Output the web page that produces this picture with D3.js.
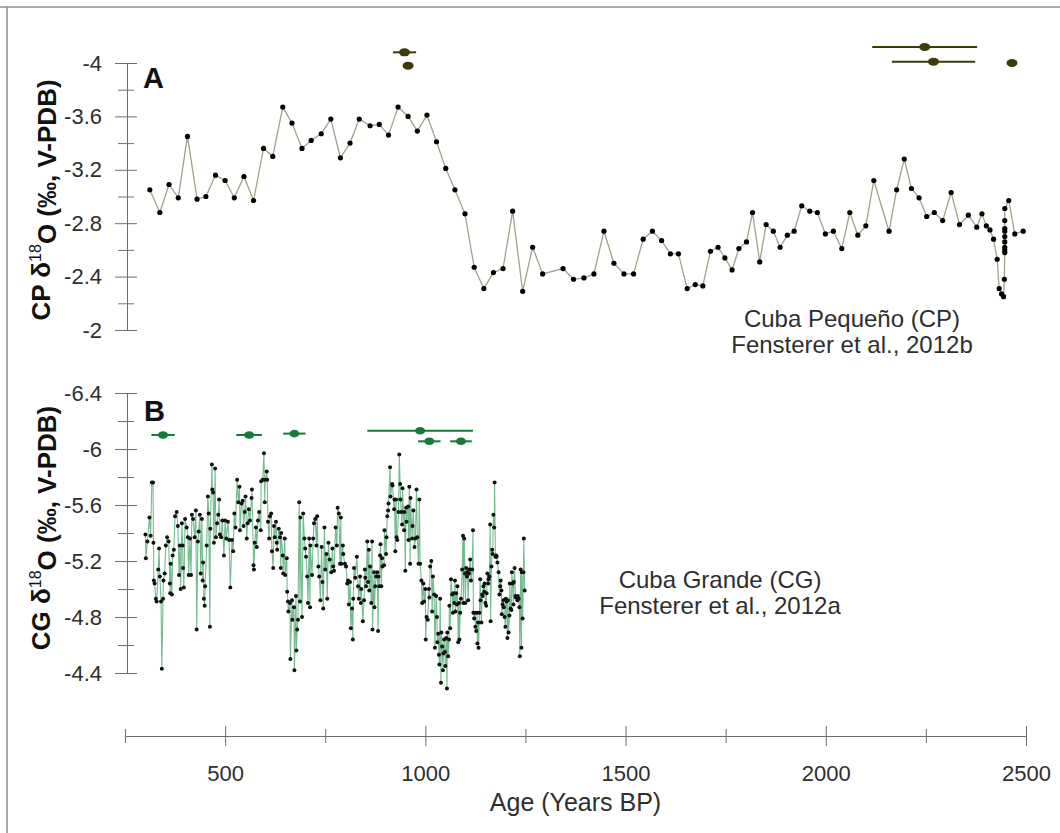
<!DOCTYPE html>
<html>
<head>
<meta charset="utf-8">
<script src="https://cdnjs.cloudflare.com/ajax/libs/d3/7.8.5/d3.min.js"></script>
<style>
  body { margin: 0; background: #fff; }
  svg { display: block; font-family: "Liberation Sans", Arial, Helvetica, sans-serif; }
</style>
</head>
<body>
<div id="chart"></div>
<script>
// ---- panel A : Cuba Pequeno (CP) ----
const cpAge = [312,337,360,383,406,430,452,476,500,523,547,571,596,619,644,667,692,715,740,764,788,812,835,862,885,908,932,957,980,1004,1028,1051,1074,1099,1122,1146,1170,1194,1218,1243,1268,1293,1344,1370,1396,1421,1446,1471,1496,1520,1544,1567,1590,1612,1632,1654,1674,1693,1712,1731,1748,1766,1783,1802,1817,1835,1851,1869,1886,1904,1921,1940,1960,1979,1999,2019,2040,2060,2080,2100,2120,2158,2177,2196,2214,2233,2252,2271,2292,2313,2334,2356,2377,2390,2401,2410,2419,2428,2433,2439,2444,2446,2447,2447,2447,2447,2447,2447,2447,2447,2447,2457,2472,2493];
const cpD18O = [-3.05,-2.88,-3.09,-2.99,-3.45,-2.98,-3.00,-3.16,-3.12,-2.99,-3.15,-2.97,-3.36,-3.30,-3.67,-3.55,-3.36,-3.42,-3.47,-3.58,-3.29,-3.40,-3.58,-3.53,-3.54,-3.46,-3.67,-3.60,-3.49,-3.61,-3.41,-3.21,-3.05,-2.87,-2.47,-2.31,-2.43,-2.46,-2.89,-2.29,-2.62,-2.42,-2.46,-2.38,-2.39,-2.42,-2.74,-2.50,-2.42,-2.42,-2.68,-2.74,-2.67,-2.57,-2.57,-2.31,-2.34,-2.33,-2.59,-2.62,-2.54,-2.45,-2.61,-2.66,-2.88,-2.51,-2.79,-2.74,-2.62,-2.71,-2.74,-2.93,-2.89,-2.88,-2.72,-2.74,-2.61,-2.88,-2.71,-2.78,-3.12,-2.74,-3.05,-3.28,-3.06,-2.99,-2.85,-2.88,-2.82,-3.03,-2.79,-2.86,-2.77,-2.87,-2.78,-2.75,-2.68,-2.53,-2.31,-2.27,-2.25,-2.38,-2.58,-2.60,-2.62,-2.66,-2.70,-2.74,-2.76,-2.82,-2.91,-2.97,-2.72,-2.74,-2.83];
// U-Th dates shown above the record
const cpDateAge = [948, 957, 2247, 2269, 2465];
const cpDateErr = [29, 0, 131, 104, 0];
const cpDateRow = [-4.08, -3.98, -4.12, -4.01, -4.00];

// ---- panel B : Cuba Grande (CG) ----
const cgAge = [301,302,306,311,314,317,320,321,322,324,327,329,333,335,337,340,342,345,346,349,352,355,359,362,363,364,367,369,372,375,379,382,385,387,389,392,394,395,397,400,404,407,409,412,415,417,420,424,427,429,432,434,437,439,442,444,445,447,449,450,454,457,459,462,463,467,468,470,472,475,477,480,483,485,487,490,493,497,500,503,507,510,513,517,520,523,526,530,533,
536,537,541,544,546,549,551,554,556,559,562,566,567,571,572,574,577,579,582,585,589,590,594,597,599,600,604,605,607,610,612,615,617,620,622,624,627,629,630,634,637,639,640,644,645,649,650,654,655,657,658,662,663,667,668,672,673,677,678,680,682,685,687,688,692,695,698,700,702,705,707,710,712,713,717,720,722,725,728,730,733,735,738,741,743,745,748,750,753,755,758,761,765,768,770,
772,776,779,781,784,787,789,790,794,795,799,802,805,807,809,812,814,817,819,820,822,825,829,832,834,837,839,840,844,847,849,850,852,855,857,859,860,862,865,867,868,872,873,875,877,880,882,883,885,887,888,890,892,893,897,898,902,903,905,907,908,912,913,917,918,922,923,925,927,928,930,933,935,937,938,940,942,943,947,948,950,952,953,957,958,960,962,963,967,968,970,973,975,978,980,983,985,987,990,992,995,997,1000,1001,1003,1006,
1009,1010,1012,1015,1017,1019,1022,1024,1027,1029,1030,1032,1034,1035,1037,1039,1040,1042,1044,1045,1047,1049,1050,1052,1054,1055,1057,1059,1060,1062,1064,1067,1069,1070,1072,1074,1075,1077,1079,1080,1082,1084,1085,1087,1089,1092,1094,1095,1097,1099,1100,1102,1104,1105,1107,1109,1110,1112,1114,1117,1119,1120,1122,1124,1125,1127,1129,1130,1132,1133,1135,1137,1138,1140,1142,1143,1145,1147,1148,1150,1152,1153,1155,1157,1158,1160,1162,1163,1165,1167,1168,1170,1172,1173,1175,1177,1178,1180,1183,1185,1187,1188,1190,1191,1193,1195,1196,1198,1200,1201,1203,1205,1206,1208,1210,1211,1213,1215,1216,1218,1220,1221,1223,1225,1226,1228,1230,1231,1233,1235,1236,1238,1240,1241,1243,1245,1246,1248];
const cgD18O = [-5.39,-5.22,-5.34,-5.51,-5.38,-5.76,-5.76,-5.33,-5.06,-5.04,-4.93,-4.91,-5.14,-5.29,-5.09,-4.91,-4.43,-4.93,-5.06,-5.11,-5.31,-5.37,-5.34,-5.04,-4.97,-5.18,-4.96,-5.24,-5.28,-5.52,-5.55,-5.45,-5.10,-5.31,-5.00,-5.47,-5.31,-5.15,-5.01,-5.50,-5.44,-5.37,-5.10,-5.36,-5.10,-5.53,-5.50,-5.37,-5.56,-4.71,-5.34,-5.41,-5.53,-5.11,-5.50,-5.06,-5.19,-4.93,-4.88,-5.02,-5.31,-5.66,-5.54,-4.73,-5.43,-5.89,-5.71,-5.69,-5.33,-5.86,-5.37,-5.47,-5.53,-5.64,-5.39,-5.37,-5.49,-5.24,-5.49,-5.36,-5.48,-5.35,-5.01,-5.35,-5.27,-5.54,-5.44,-5.78,-5.62,
-5.73,-5.42,-5.61,-5.63,-5.45,-5.55,-5.66,-5.36,-5.47,-5.57,-5.49,-5.65,-5.71,-5.17,-5.14,-5.33,-5.44,-5.30,-5.49,-5.55,-5.42,-5.77,-5.78,-5.97,-5.62,-5.78,-5.84,-5.78,-5.48,-5.36,-5.52,-5.54,-5.27,-5.15,-5.45,-5.37,-5.48,-5.33,-5.28,-5.43,-5.37,-5.15,-5.40,-5.24,-5.11,-5.36,-5.10,-5.22,-4.98,-4.91,-4.84,-4.90,-4.50,-4.92,-4.78,-4.87,-4.42,-4.95,-4.56,-4.71,-4.78,-5.62,-4.91,-5.51,-4.80,-5.54,-5.36,-5.29,-5.23,-5.09,-4.90,-5.36,-4.87,-5.31,-5.10,-5.36,-5.47,-5.50,-5.31,-5.52,-5.16,-5.09,-4.92,-5.30,-5.05,-4.86,-5.44,-5.14,-5.25,-4.93,-5.33,-5.21,-5.12,-5.29,-5.16,
-5.13,-5.44,-5.31,-5.58,-5.54,-5.18,-5.51,-5.18,-5.31,-5.25,-5.18,-5.16,-5.04,-5.06,-4.89,-5.05,-4.72,-4.86,-4.64,-4.93,-5.15,-5.08,-5.23,-5.02,-4.93,-5.09,-4.90,-5.00,-4.77,-4.92,-5.14,-5.08,-5.02,-5.34,-5.05,-5.28,-4.99,-5.16,-4.90,-5.34,-4.71,-5.12,-4.87,-5.02,-5.09,-5.12,-4.70,-5.09,-5.02,-5.24,-5.32,-5.02,-5.22,-5.16,-5.17,-5.42,-5.25,-5.37,-5.52,-5.56,-5.61,-5.87,-5.66,-5.75,-5.74,-5.57,-5.64,-5.27,-5.64,-5.37,-5.35,-5.55,-5.96,-5.75,-5.64,-5.55,-5.46,-5.72,-5.42,-5.55,-5.13,-5.58,-5.48,-5.59,-5.35,-5.73,-5.18,-5.65,-5.36,-5.45,-5.56,-5.30,-5.36,-5.71,-5.37,-5.18,-5.64,-5.18,-5.06,-4.90,-5.04,-4.91,-5.00,-4.64,-4.80,-4.78,
-5.00,-4.94,-5.16,-5.20,-4.84,-5.09,-4.96,-4.58,-4.95,-4.80,-4.62,-4.68,-4.53,-4.46,-4.93,-4.33,-4.69,-4.59,-4.42,-4.54,-4.64,-4.55,-4.45,-4.65,-4.29,-4.69,-4.52,-4.64,-4.88,-4.72,-5.07,-4.96,-4.83,-4.97,-4.90,-5.06,-4.84,-4.97,-4.89,-5.02,-4.62,-4.90,-4.64,-4.83,-4.93,-5.14,-5.38,-4.90,-5.36,-5.11,-4.90,-5.15,-5.09,-5.12,-4.92,-5.11,-5.14,-5.21,-5.06,-5.14,-5.42,-4.83,-4.79,-4.83,-4.73,-4.70,-4.83,-4.61,-4.76,-4.58,-4.83,-5.07,-4.92,-4.76,-4.96,-4.95,-5.02,-4.98,-5.04,-4.90,-4.88,-4.97,-5.11,-5.04,-5.07,-5.09,-5.46,-4.77,-5.16,-5.28,-5.25,-5.53,-5.44,-5.76,-5.23,-5.24,-5.23,-5.19,-5.12,-4.96,-5.02,-5.06,-4.99,-4.82,-4.89,-4.92,-4.87,-4.80,-4.73,-4.93,-4.91,-4.65,-4.92,-4.69,-4.81,-5.04,-4.86,-4.85,-5.12,-5.04,-4.89,-5.05,-5.15,-4.95,-4.94,-4.94,-4.92,-4.95,-4.93,-4.87,-4.52,-5.14,-4.58,-5.12,-4.79,-5.12,-5.36,-4.99];
const cgDateAge = [345, 560, 673, 987, 1010, 1089];
const cgDateErr = [29, 32, 28, 132, 28, 27];
const cgDateRow = [-6.10, -6.10, -6.11, -6.13, -6.055, -6.055];

// ---- axes ticks ----
const xMajor = [500, 1000, 1500, 2000, 2500];
const xMinor = [250, 750, 1250, 1750, 2250];
const yMajorA = [-4, -3.6, -3.2, -2.8, -2.4, -2];
const yMinorA = [-3.8, -3.4, -3.0, -2.6, -2.2];
const yMajorB = [-6.4, -6, -5.6, -5.2, -4.8, -4.4];
const yMinorB = [-6.2, -5.8, -5.4, -5.0, -4.6];

const W = 1060, H = 833;
const fmt = d => String(+d.toFixed(1));
const axisColor = "#6e6e6e";
const textColor = "#2e2e2e";

const svg = d3.select("#chart").append("svg").attr("width", W).attr("height", H);
svg.append("rect").attr("width", W).attr("height", H).attr("fill", "#fff");

// frame (top and left edges)
svg.append("line").attr("x1", 0).attr("x2", W).attr("y1", 7).attr("y2", 7)
  .attr("stroke", "#8c8c8c").attr("stroke-width", 1.5);
svg.append("line").attr("x1", 7).attr("x2", 7).attr("y1", 7).attr("y2", H)
  .attr("stroke", "#8c8c8c").attr("stroke-width", 1.5);

const x = d3.scaleLinear().domain([250, 2500]).range([125, 1026]);
const yA = d3.scaleLinear().domain([-4, -2]).range([63, 330]);
const yB = d3.scaleLinear().domain([-6.4, -4.4]).range([393, 673]);

function styleAxis(g) {
  g.selectAll("path, line").attr("stroke", axisColor).attr("stroke-width", 1);
  g.selectAll("text").attr("fill", textColor).style("font-size", "22px")
    .style("font-family", "'Liberation Sans', Arial, sans-serif");
}

function drawYAxis(scale, major, minor) {
  let g = svg.append("g").attr("transform", "translate(127,0)")
    .call(d3.axisLeft(scale).tickValues(major).tickSize(12).tickSizeOuter(0).tickPadding(13).tickFormat(fmt));
  g.selectAll(".tick line").attr("x1", 10);
  styleAxis(g);
  let gm = svg.append("g").attr("transform", "translate(127,0)")
    .call(d3.axisLeft(scale).tickValues(minor).tickSize(9).tickSizeOuter(0).tickFormat(""));
  gm.select(".domain").remove();
  gm.selectAll(".tick line").attr("x1", 7);
  styleAxis(gm);
}
drawYAxis(yA, yMajorA, yMinorA);
drawYAxis(yB, yMajorB, yMinorB);

// x axis
let gx = svg.append("g").attr("transform", "translate(0,736)")
  .call(d3.axisBottom(x).tickValues(xMajor).tickSize(10).tickSizeOuter(0).tickFormat(d3.format("d")));
gx.selectAll(".tick line").attr("y1", -10);
gx.selectAll(".tick text").attr("y", 37).attr("dy", "0.35em");
styleAxis(gx);
let gxm = svg.append("g").attr("transform", "translate(0,736)")
  .call(d3.axisBottom(x).tickValues(xMinor).tickSize(7).tickSizeOuter(0).tickFormat(""));
gxm.select(".domain").remove();
gxm.selectAll(".tick line").attr("y1", -7);
styleAxis(gxm);

svg.append("text").attr("x", x(1375)).attr("y", 802).attr("dy", "0.35em")
  .attr("text-anchor", "middle").attr("fill", textColor).style("font-size", "25px")
  .text("Age (Years BP)");

// y titles
function yTitle(site, cy) {
  const t = svg.append("text").attr("transform", `translate(50,${cy}) rotate(-90)`)
    .attr("text-anchor", "middle").attr("fill", "#111").style("font-size", "26px").style("font-weight", "bold");
  t.append("tspan").text(site + " δ");
  t.append("tspan").attr("dy", "-0.55em").style("font-size", "16px").style("font-weight", "normal").text("18");
  t.append("tspan").attr("dy", "0.55em").text("O (‰, V-PDB)");
}
yTitle("CP", 200);
yTitle("CG", 528);

// panel letters
svg.append("text").attr("x", 143).attr("y", 88).style("font-size", "29px").style("font-weight", "bold").attr("fill", "#111").text("A");
svg.append("text").attr("x", 144).attr("y", 421).style("font-size", "29px").style("font-weight", "bold").attr("fill", "#111").text("B");

// series A
const dataA = cpAge.map((a, i) => ({ age: a, v: cpD18O[i] }));
svg.append("path").datum(dataA)
  .attr("fill", "none").attr("stroke", "#a3a187").attr("stroke-width", 1.3)
  .attr("d", d3.line().x(d => x(d.age)).y(d => yA(d.v)));
svg.append("g").selectAll("circle").data(dataA).enter().append("circle")
  .attr("cx", d => x(d.age)).attr("cy", d => yA(d.v)).attr("r", 2.6).attr("fill", "#000");

// series B
const dataB = cgAge.map((a, i) => ({ age: a, v: cgD18O[i] }));
svg.append("path").datum(dataB)
  .attr("fill", "none").attr("stroke", "#45a56b").attr("stroke-opacity", 0.75).attr("stroke-width", 1.1)
  .attr("d", d3.line().x(d => x(d.age)).y(d => yB(d.v)));
svg.append("g").selectAll("circle").data(dataB).enter().append("circle")
  .attr("cx", d => x(d.age)).attr("cy", d => yB(d.v)).attr("r", 2).attr("fill", "#111");

// dating markers
function dates(ages, errs, rows, scale, color, rx, ry) {
  const g = svg.append("g");
  ages.forEach((a, i) => {
    if (errs[i] > 0) {
      g.append("line").attr("x1", x(a - errs[i])).attr("x2", x(a + errs[i]))
        .attr("y1", scale(rows[i])).attr("y2", scale(rows[i]))
        .attr("stroke", color).attr("stroke-width", 2);
    }
    g.append("ellipse").attr("cx", x(a)).attr("cy", scale(rows[i]))
      .attr("rx", rx).attr("ry", ry).attr("fill", color);
  });
}
dates(cpDateAge, cpDateErr, cpDateRow, yA, "#3d3b0d", 5.5, 4);
dates(cgDateAge, cgDateErr, cgDateRow, yB, "#167a3c", 5, 3.8);

// site annotations
function note(lines, cx, y0) {
  lines.forEach((s, i) => {
    svg.append("text").attr("x", cx).attr("y", y0 + i * 26).attr("text-anchor", "middle")
      .attr("fill", textColor).style("font-size", "24px").text(s);
  });
}
note(["Cuba Pequeño (CP)", "Fensterer et al., 2012b"], 852, 327);
note(["Cuba Grande (CG)", "Fensterer et al., 2012a"], 720, 588);
</script>
</body>
</html>
